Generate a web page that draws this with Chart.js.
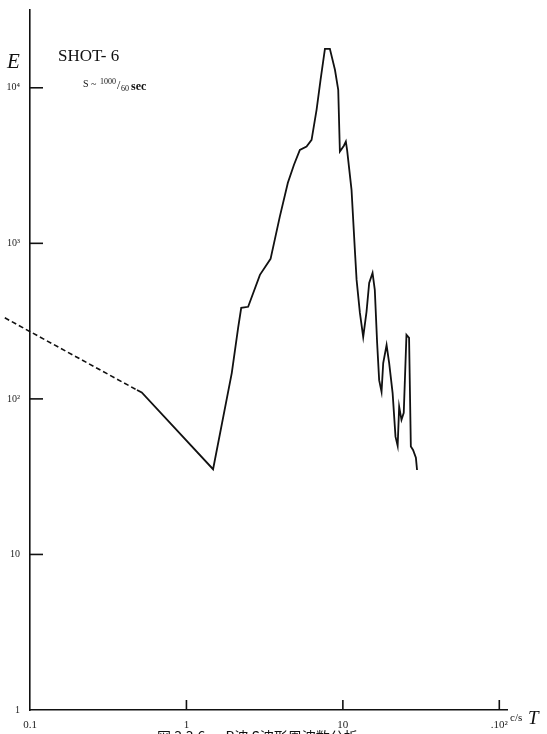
<!DOCTYPE html>
<html>
<head>
<meta charset="utf-8">
<script src="https://cdn.jsdelivr.net/npm/chart.js@4"></script>
<style>
  html, body { margin: 0; padding: 0; background: #fff; }
  #wrap { width: 547px; height: 734px; overflow: hidden; }
</style>
</head>
<body>
<div id="wrap"><canvas id="myChart" width="547" height="734"></canvas></div>
<script>
// frequency (c/s) and energy E
const dashX = [0.069, 0.483];
const dashE = [332, 114];

const freq = [0.483, 0.518, 1.48, 1.95, 2.14, 2.24, 2.48, 2.95, 3.45, 3.95, 4.45, 4.87, 5.31, 5.86, 6.31,
  6.79, 7.20, 7.68, 8.26, 8.90, 9.34, 9.57, 10.15, 10.45, 10.65, 11.36, 11.93, 12.24, 12.85, 13.49,
  14.17, 14.73, 15.48, 16.0, 16.56, 17.06, 17.67, 18.11, 19.03, 19.77, 20.8, 21.7, 22.4, 22.9, 23.7,
  24.5, 25.5, 26.5, 27.2, 28.1, 29.3, 29.8];
const energy = [114, 110, 35.3, 147, 286, 385, 391, 627, 795, 1480, 2450, 3200, 3990, 4195, 4630,
  7220, 11250, 17800, 17800, 13050, 9710, 3895, 4240, 4515, 3953, 2208, 908, 582, 357, 250,
  364, 557, 646, 502, 229, 132, 111, 170, 222, 170, 109, 57.2, 49.9, 89.2, 73.3,
  81.3, 258, 247, 49.4, 47, 41.8, 34.9];

const xTicks = [0.1, 1, 10, 100];
const xLabels = ['0.1', '1', '10', '.10²'];
const yTicks = [1, 10, 100, 1000, 10000];
const yLabels = ['1', '10', '10²', '10³', '10⁴'];

function pts(xs, ys) {
  return xs.map((x, i) => ({ x: x, y: ys[i] }));
}

const serif = '"Liberation Serif", "DejaVu Serif", serif';

// short tick marks pointing into the plot, plus the free texts
const extras = {
  id: 'extras',
  afterDraw(chart) {
    const ctx = chart.ctx;
    const xs = chart.scales.x, ys = chart.scales.y;
    const a = chart.chartArea;
    ctx.save();
    ctx.strokeStyle = '#111';
    ctx.lineWidth = 1.6;
    yTicks.forEach(v => {
      if (v == 1) return;
      const y = ys.getPixelForValue(v);
      ctx.beginPath(); ctx.moveTo(a.left, y); ctx.lineTo(a.left + 13, y); ctx.stroke();
    });
    xTicks.forEach(v => {
      if (v == 0.1) return;
      const x = xs.getPixelForValue(v);
      ctx.beginPath(); ctx.moveTo(x, a.bottom); ctx.lineTo(x, a.bottom - 10); ctx.stroke();
    });

    ctx.fillStyle = '#111';
    ctx.textBaseline = 'alphabetic';
    ctx.font = 'italic 21px ' + serif;
    ctx.fillText('E', 7, 68);
    ctx.font = '17px ' + serif;
    ctx.fillText('SHOT- 6', 58, 61);
    ctx.font = '10px ' + serif;
    ctx.fillText('S ~', 83, 87);
    ctx.font = '8px ' + serif;
    ctx.fillText('1000', 100, 84);
    ctx.font = '12px ' + serif;
    ctx.fillText('/', 117, 89);
    ctx.font = '8px ' + serif;
    ctx.fillText('60', 121, 91);
    ctx.font = 'bold 12px ' + serif;
    ctx.fillText('sec', 131, 90);

    ctx.font = '11px ' + serif;
    ctx.fillText('c/s', 510, 721);
    ctx.font = 'italic 19px ' + serif;
    ctx.fillText('T', 528, 724);

    ctx.font = '14px "Noto Sans CJK JP"';
    ctx.fillText('図 3.3.6 － P波 S波形周波数分析', 157, 742);
    ctx.restore();
  }
};

new Chart(document.getElementById('myChart'), {
  type: 'line',
  data: {
    datasets: [{
      data: pts(freq, energy),
      borderColor: '#111',
      borderWidth: 1.8,
      pointRadius: 0,
      tension: 0
    }, {
      data: pts(dashX, dashE),
      borderColor: '#111',
      borderWidth: 1.6,
      borderDash: [5, 3],
      pointRadius: 0,
      clip: false
    }]
  },
  options: {
    responsive: false,
    animation: false,
    layout: { padding: { left: 0, right: 40, top: 10, bottom: 0 } },
    plugins: { legend: { display: false }, tooltip: { enabled: false } },
    scales: {
      x: {
        type: 'logarithmic',
        min: 0.1,
        max: 112,
        afterBuildTicks: s => { s.ticks = xTicks.map(v => ({ value: v })); },
        afterFit: s => { s.height = 24; },
        grid: { display: false },
        border: { display: true, color: '#111', width: 1.6 },
        ticks: {
          callback: (v) => xLabels[xTicks.indexOf(v)],
          font: { family: serif, size: 11 },
          color: '#222',
          padding: 1,
          maxRotation: 0,
          autoSkip: false
        }
      },
      y: {
        type: 'logarithmic',
        min: 1,
        max: 31623,
        afterBuildTicks: s => { s.ticks = yTicks.map(v => ({ value: v })); },
        afterFit: s => { s.width = 30; },
        grid: { display: false },
        border: { display: true, color: '#111', width: 1.6 },
        ticks: {
          callback: (v) => yLabels[yTicks.indexOf(v)],
          font: { family: serif, size: 10 },
          color: '#222',
          padding: 2,
          autoSkip: false
        }
      }
    }
  },
  plugins: [extras]
});
</script>
</body>
</html>
